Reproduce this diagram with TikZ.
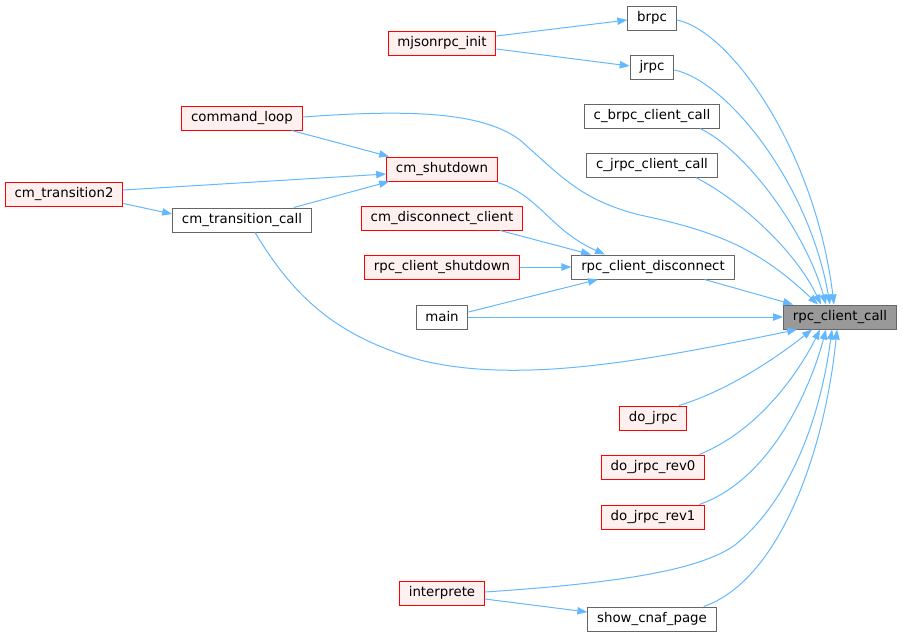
\documentclass[tikz,border=0pt]{standalone}
\usepackage{fontspec}
\setmainfont{DejaVu Sans}
\usetikzlibrary{calc, positioning}
\usetikzlibrary{arrows.meta}
\definecolor{edgeblue}{HTML}{63B8FF}
\definecolor{redfill}{HTML}{FFF0F0}
\definecolor{boxgray}{HTML}{666666}
\definecolor{rootgray}{HTML}{999999}

\begin{document}
\begin{tikzpicture}[x=0.75pt, y=-0.75pt,
  fn/.style={draw=boxgray, fill=white, line width=0.75pt, minimum height=18pt, inner xsep=7pt, inner ysep=0pt, font=\fontsize{10}{12}\selectfont},
  redfn/.style={fn, draw=red, fill=redfill},
  rootfn/.style={fn, fill=rootgray},
  call/.style={draw=edgeblue, line width=0.75pt, -{Triangle[length=7.5pt,width=5.5pt]}}]
\useasboundingbox (0,0) rectangle (903,637);

\node[rootfn] (rpccall) at (840,317) {rpc\_client\_call};
\node[fn] (brpc) at (652,18) {brpc};
\node[fn] (jrpc) at (652,67) {jrpc};
\node[redfn] (mjsoninit) at (442,43) {mjsonrpc\_init};
\node[fn] (cbrpc) at (652,116) {c\_brpc\_client\_call};
\node[fn] (cjrpc) at (652,165) {c\_jrpc\_client\_call};
\node[redfn] (cmdloop) at (242,118) {command\_loop};
\node[redfn] (cmshut) at (442,169) {cm\_shutdown};
\node[redfn] (cmtrans2) at (64,194) {cm\_transition2};
\node[fn] (cmtranscall) at (242,220) {cm\_transition\_call};
\node[redfn] (cmdisc) at (442,218) {cm\_disconnect\_client};
\node[redfn] (rpcshut) at (442,267) {rpc\_client\_shutdown};
\node[fn] (rpcdisc) at (653,267) {rpc\_client\_disconnect};
\node[fn] (main) at (442,317) {main};
\node[redfn] (dojrpc) at (653,418) {do\_jrpc};
\node[redfn] (dojrpczero) at (653,467) {do\_jrpc\_rev0};
\node[redfn] (dojrpcone) at (653,517) {do\_jrpc\_rev1};
\node[redfn] (interp) at (442,593) {interprete};
\node[fn] (showcnaf) at (652,619) {show\_cnaf\_page};

% callers of rpc_client_call, top side
\draw[call] ($(brpc.east)+(0,2)$) .. controls (730,30) and (815,150) .. ($(rpccall.north)+(-6,0)$);
\draw[call] ($(jrpc.east)+(0,3)$) .. controls (725,80) and (808,180) .. ($(rpccall.north)+(-10,0)$);
\draw[call] ($(cbrpc.south east)+(-20,0)$) .. controls (745,150) and (805,230) .. ($(rpccall.north)+(-14,0)$);
\draw[call] ($(cjrpc.south east)+(-22,0)$) .. controls (740,200) and (795,250) .. ($(rpccall.north)+(-19,0)$);
\draw[call] ($(cmdloop.east)+(0,-1)$) .. controls (400,110) and (480,110) .. (520,140)
  .. controls (560,175) and (580,200) .. (640,215) .. controls (720,232) and (760,250) .. ($(rpccall.north)+(-22,0)$);
\draw[call] ($(rpcdisc.south east)+(-30,0)$) -- ($(rpccall.north west)+(10,0)$);
\draw[call] (main.east) -- (rpccall.west);
% callers of rpc_client_call, bottom side
\draw[call] ($(cmtranscall.south)+(13,0)$) .. controls (290,290) and (330,335) .. (420,360)
  .. controls (520,385) and (650,360) .. ($(rpccall.south west)+(14,0)$);
\draw[call] ($(dojrpc.north east)+(-8,0)$) .. controls (730,390) and (780,355) .. ($(rpccall.south)+(-28,0)$);
\draw[call] ($(dojrpczero.north east)+(-6,0)$) .. controls (760,430) and (800,370) .. ($(rpccall.south)+(-20,0)$);
\draw[call] ($(dojrpcone.north east)+(-6,0)$) .. controls (770,480) and (810,390) .. ($(rpccall.south)+(-14,0)$);
\draw[call] ($(interp.east)+(0,-1)$) .. controls (620,583) and (700,570) .. (735,545)
  .. controls (790,500) and (820,420) .. ($(rpccall.south)+(-8,0)$);
\draw[call] ($(showcnaf.north east)+(-13,0)$) .. controls (780,580) and (825,450) .. ($(rpccall.south)+(-3,0)$);

% the other calls
\draw[call] ($(mjsoninit.east)+(0,-7)$) -- ($(brpc.west)+(0,2)$);
\draw[call] ($(mjsoninit.east)+(0,6)$) -- ($(jrpc.west)+(0,-1)$);
\draw[call] ($(cmdloop.south east)+(-11,0)$) -- ($(cmshut.north west)+(3,0)$);
\draw[call] ($(cmtrans2.east)+(0,-4)$) -- ($(cmshut.west)+(0,5)$);
\draw[call] ($(cmtranscall.north east)+(-18,0)$) -- ($(cmshut.south west)+(3,0)$);
\draw[call] ($(cmtrans2.south east)+(0,-3)$) -- ($(cmtranscall.west)+(0,-6)$);
\draw[call] ($(cmshut.south east)+(0,1)$) .. controls (540,196) and (550,230) .. ($(rpcdisc.north)+(-48,0)$);
\draw[call] ($(cmdisc.south east)+(-23,0)$) -- ($(rpcdisc.north)+(-62,0)$);
\draw[call] (rpcshut.east) -- (rpcdisc.west);
\draw[call] ($(main.east)+(0,-5)$) -- ($(rpcdisc.south)+(-55,0)$);
\draw[call] ($(interp.east)+(0,6)$) -- ($(showcnaf.west)+(0,-7)$);
\end{tikzpicture}
\end{document}
